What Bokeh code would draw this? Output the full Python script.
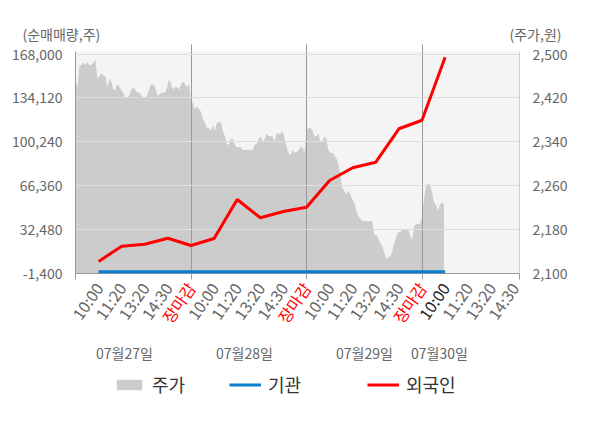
import math
from bokeh.plotting import figure
from bokeh.models import (Range1d, LinearAxis, FixedTicker, Label, Legend,
                          LegendItem, NumeralTickFormatter, BoxAnnotation)
from bokeh.embed import file_html
from bokeh.resources import INLINE

FONT = "Noto Sans CJK KR"

# ---------------- data ----------------
time_labels = ["10:00", "11:20", "13:20", "14:30", "장마감",
               "10:00", "11:20", "13:20", "14:30", "장마감",
               "10:00", "11:20", "13:20", "14:30", "장마감",
               "10:00", "11:20", "13:20", "14:30"]
date_labels = ["07월27일", "07월28일", "07월29일", "07월30일"]

flow_slots = list(range(1, 17))
foreign = [7900, 19700, 21200, 25800, 20200, 25600, 55700, 41600,
           46500, 49800, 70400, 80200, 84500, 110300, 116900, 165500]
institution = [0] * 16

price_day1 = [2450, 2440, 2480, 2480, 2485, 2480, 2485, 2480, 2480, 2485,
              2490, 2455, 2460, 2465, 2460, 2460, 2440, 2455, 2450, 2435,
              2435, 2445, 2440, 2435, 2430, 2420, 2420, 2425, 2435, 2440,
              2435, 2430, 2430, 2425, 2420, 2420, 2425, 2435, 2445, 2445,
              2440, 2425, 2425, 2430, 2430, 2430, 2440, 2455, 2445, 2435,
              2440, 2440, 2435, 2445, 2450, 2445, 2440, 2445]
price_day2 = [2415, 2410, 2400, 2405, 2400, 2395, 2380, 2375, 2365, 2365,
              2360, 2370, 2360, 2375, 2375, 2375, 2360, 2350, 2335, 2335,
              2345, 2345, 2335, 2330, 2330, 2330, 2325, 2325, 2325, 2325,
              2325, 2325, 2335, 2335, 2345, 2350, 2340, 2345, 2355, 2350,
              2350, 2350, 2340, 2355, 2355, 2355, 2360, 2345, 2330, 2320,
              2315, 2325, 2320, 2320, 2325, 2330, 2330, 2320]
price_day3 = [2360, 2365, 2365, 2360, 2350, 2350, 2355, 2340, 2340, 2350,
              2345, 2325, 2320, 2320, 2315, 2310, 2300, 2280, 2255, 2250,
              2245, 2250, 2245, 2235, 2230, 2215, 2205, 2200, 2195, 2195,
              2195, 2195, 2195, 2195, 2170, 2170, 2165, 2155, 2150, 2140,
              2125, 2130, 2130, 2140, 2155, 2165, 2175, 2175, 2180, 2180,
              2180, 2180, 2170, 2160, 2185, 2190, 2190, 2190]
price_day4 = [2205, 2235, 2260, 2265, 2260, 2250, 2230, 2225, 2215, 2225,
              2230, 2225]
price_days = [price_day1, price_day2, price_day3, price_day4]

left_ticks = [-1400, 32480, 66360, 100240, 134120, 168000]
right_ticks = [2100, 2180, 2260, 2340, 2420, 2500]

# ---------------- layout constants (page pixels) ----------------
SLOTS_PER_DAY = 5
PTS_PER_DAY = 58
X_END = 19.22
L_MIN, L_TOP = -1400, 169940
R_MIN, R_TOP = 2100, 2504.6
FL, FR, FT, FB = 76, 520, 52, 274      # plot area on the page
OX, OY = 1, 1                          # canvas origin on the picture
W, H = 584, 412


def sx(px):
    return (px - FL) * X_END / (FR - FL)


def ly(py):
    return L_MIN + (FB - py) * (L_TOP - L_MIN) / (FB - FT)


def ry(py):
    return R_MIN + (FB - py) * (R_TOP - R_MIN) / (FB - FT)


area_x, area_y = [], []
for d, day in enumerate(price_days):
    for i, v in enumerate(day):
        area_x.append(d * SLOTS_PER_DAY + i * SLOTS_PER_DAY / PTS_PER_DAY)
        area_y.append(v)

p = figure(width=W, height=H, output_backend="svg", toolbar_location=None,
           x_range=Range1d(sx(OX), sx(OX + W)),
           y_range=Range1d(ly(OY + H), ly(OY)),
           min_border=0, min_border_left=0, min_border_right=0,
           min_border_top=0, min_border_bottom=0)
p.extra_y_ranges = {"price": Range1d(ry(OY + H), ry(OY))}
p.background_fill_color = "white"
p.border_fill_color = "white"
p.outline_line_color = None

p.add_layout(BoxAnnotation(left=0, right=X_END, bottom=L_MIN, top=L_TOP,
                           fill_color="#f4f4f4", fill_alpha=1,
                           line_color=None, level="image"))

area = p.varea(x=area_x, y1=R_MIN, y2=area_y, y_range_name="price",
               fill_color="#cccccc", level="underlay")

blue = p.line(flow_slots, institution, line_color="#0a7fd0", line_width=3,
              level="annotation")
red = p.line(flow_slots, foreign, line_color="#ff0000", line_width=3,
             level="annotation")

# axes (drawn at fixed locations inside the canvas)
p.yaxis.ticker = FixedTicker(ticks=left_ticks)
p.yaxis.formatter = NumeralTickFormatter(format="0,0")
p.yaxis.fixed_location = 0
p.yaxis.bounds = (L_MIN, L_TOP)
ra = LinearAxis(y_range_name="price", ticker=FixedTicker(ticks=right_ticks),
                formatter=NumeralTickFormatter(format="0,0"),
                fixed_location=X_END, bounds=(R_MIN, R_TOP))
p.add_layout(ra, "right")
for ax in [p.yaxis[0], ra]:
    ax.major_label_text_font = FONT
    ax.major_label_text_font_size = "14px"
    ax.major_label_text_color = "#666666"
    ax.major_tick_line_color = None
    ax.minor_tick_line_color = None
p.yaxis[0].major_label_standoff = 7
p.yaxis[0].axis_line_color = "#999999"
ra.axis_line_color = "#cccccc"
ra.major_label_standoff = 7

p.xaxis.ticker = FixedTicker(ticks=[], minor_ticks=[0, 5, 10, 15, X_END])
p.xaxis.fixed_location = L_MIN
p.xaxis.bounds = (0, X_END)
p.xaxis.axis_line_color = "#999999"
p.xaxis.minor_tick_line_color = "#999999"
p.xaxis.minor_tick_in = 0
p.xaxis.minor_tick_out = 6
p.xaxis.major_tick_line_color = None

p.xgrid.ticker = FixedTicker(ticks=[5, 10, 15])
p.xgrid.grid_line_color = "#999999"
p.xgrid.cross_bounds = (L_MIN, ly(45))
p.xgrid.level = "glyph"
p.ygrid.ticker = FixedTicker(ticks=left_ticks[1:])
p.ygrid.grid_line_color = "#dddddd"
p.ygrid.cross_bounds = (0, X_END)
p.ygrid.level = "glyph"

# x labels
for k, t in enumerate(time_labels, start=1):
    if t == "장마감":
        col = "#ff0000"
    elif k == 16:
        col = "#222222"
    else:
        col = "#666666"
    p.add_layout(Label(x=k, y=ly(285), text=t,
                       angle=0.96, text_align="right",
                       text_baseline="middle", text_font=FONT,
                       text_font_size="16px", text_color=col))

date_px = [125, 245, 365, 440]
for t, dp in zip(date_labels, date_px):
    p.add_layout(Label(x=sx(dp), y=ly(353), text=t, text_align="center",
                       text_baseline="middle", text_font=FONT,
                       text_font_size="14px", text_color="#666666"))

p.add_layout(Label(x=sx(23), y=ly(34), text="(순매매량,주)",
                   text_align="left", text_baseline="middle", text_font=FONT,
                   text_font_size="14px", text_color="#666666"))
p.add_layout(Label(x=sx(562), y=ly(34), text="(주가,원)",
                   text_align="right", text_baseline="middle", text_font=FONT,
                   text_font_size="14px", text_color="#666666"))

# legends
for lbl, r, lx in [("주가", area, 114), ("기관", blue, 230), ("외국인", red, 368)]:
    lg = Legend(items=[LegendItem(label=lbl, renderers=[r])],
                location=(lx - OX, OY + H - 398), orientation="horizontal",
                glyph_width=32, glyph_height=13, label_standoff=7,
                padding=0, margin=0, border_line_color=None,
                background_fill_alpha=0, label_text_font=FONT,
                label_text_font_size="18px", label_text_color="#333333")
    p.add_layout(lg, "center")

open("out.html", "w").write(file_html(p, INLINE))
